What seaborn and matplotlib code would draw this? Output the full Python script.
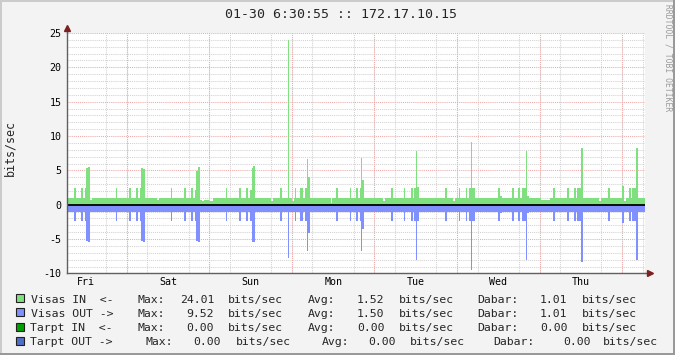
import numpy as np
import pandas as pd
import matplotlib
matplotlib.use("Agg")
import matplotlib.pyplot as plt
from matplotlib.patches import Rectangle
import seaborn as sns

# ---------------- data (hours since Fri 00:00) ----------------
title = "01-30 6:30:55 :: 172.17.10.15"
day_labels = ["Fri", "Sat", "Sun", "Mon", "Tue", "Wed", "Thu"]
t_start, t_end = 6.5, 174.5
y_ticks = [-10, -5, 0, 5, 10, 15, 20, 25]

base_in = 0.95
base_out = 1.0

ev_start = [8.6, 10.7, 11.8, 12.1, 12.7, 13.3, 20.8, 24.6, 26.6, 27.8, 28.1, 28.7,
            32.7, 36.8, 40.6, 42.6, 43.8, 44.1, 44.6, 45.2, 45.8, 46.4, 47.8,
            52.8, 56.5, 58.6, 59.7, 60.3, 60.6, 65.8, 68.7, 70.8, 71.9, 72.8,
            74.5, 75.7, 76.3, 76.6, 83.5, 84.7, 88.8, 90.5, 91.7, 92.2, 92.5,
            98.6, 100.7, 104.7, 106.5, 107.6, 108.2, 108.5, 116.6, 118.7, 120.7,
            122.7, 123.6, 124.2, 124.5, 132.0, 132.6, 136.1, 137.8, 139.0, 140.2,
            140.4, 144.5, 148.0, 152.1, 154.1, 155.0, 156.1, 161.4, 164.0, 168.0,
            168.6, 170.1, 170.9, 172.1]
ev_end = [9.2, 11.2, 12.1, 12.7, 13.3, 13.9, 21.1, 25.2, 27.2, 28.1, 28.7, 29.2,
          33.3, 37.1, 41.1, 43.2, 44.1, 44.6, 45.2, 45.8, 46.4, 47.8, 49.0,
          53.1, 57.1, 59.2, 60.3, 60.6, 61.2, 66.4, 69.0, 71.1, 72.5, 73.1,
          75.1, 76.3, 76.6, 77.2, 83.8, 85.3, 89.1, 91.1, 92.2, 92.5, 93.1,
          99.2, 101.3, 105.0, 107.1, 108.2, 108.5, 109.1, 117.2, 119.3, 121.0,
          123.0, 124.2, 124.5, 125.1, 132.6, 133.2, 136.7, 138.4, 140.2, 140.4,
          141.0, 147.1, 148.6, 152.6, 154.7, 156.1, 156.7, 161.9, 164.6, 168.6,
          169.2, 170.6, 172.1, 172.7]
ev_in = [2.4, 2.4, 2.4, 5.4, 5.5, 0.7, 2.4, 2.4, 2.4, 2.4, 5.4, 5.2,
         0.7, 2.4, 2.4, 2.4, 2.2, 4.9, 5.5, 0.7, 0.5, 0.7, 0.5,
         2.4, 2.4, 2.4, 2.2, 5.4, 5.6, 0.5, 2.4, 24.01, 0.5, 2.4,
         2.4, 2.4, 6.6, 4.0, 0.3, 2.4, 2.4, 2.4, 2.4, 6.8, 3.6,
         0.5, 2.4, 2.4, 2.4, 2.4, 7.8, 2.6, 2.4, 0.5, 2.4,
         2.4, 2.4, 9.1, 2.4, 2.4, 1.2, 2.4, 2.4, 2.4, 7.8,
         1.2, 0.7, 2.4, 2.4, 2.4, 2.4, 8.25, 0.6, 2.4, 2.7,
         0.6, 2.4, 2.4, 8.2]
ev_out = [2.4, 2.4, 2.4, 5.3, 5.5, 1.0, 2.4, 2.4, 2.4, 2.4, 5.3, 5.5,
          1.0, 2.4, 2.4, 2.4, 2.4, 5.3, 5.5, 1.0, 1.0, 1.0, 1.0,
          2.4, 2.4, 2.4, 2.4, 5.5, 5.5, 1.0, 2.4, 7.7, 1.0, 2.4,
          2.4, 2.4, 6.7, 4.1, 1.0, 2.4, 2.4, 2.4, 2.4, 6.8, 3.6,
          1.0, 2.4, 2.4, 2.4, 2.4, 8.1, 2.4, 2.4, 1.0, 2.4,
          2.4, 2.4, 9.52, 2.4, 2.4, 1.2, 2.4, 2.4, 2.4, 8.1,
          1.2, 1.0, 2.4, 2.4, 2.4, 2.4, 8.3, 1.0, 2.4, 2.7,
          1.0, 2.4, 2.4, 8.1]

legend_names = ["Visas IN  <-", "Visas OUT ->", "Tarpt IN  <-", "Tarpt OUT ->"]
legend_colors = ["#80e080", "#8090ff", "#00a000", "#5070c8"]
max_vals = ["24.01", "9.52", "0.00", "0.00"]
avg_vals = ["1.52", "1.50", "0.00", "0.00"]
cur_vals = ["1.01", "1.01", "0.00", "0.00"]

# ---------------- build step series ----------------
edges = [t_start]
vin, vout = [], []
cur = t_start
for s, e, a, b in zip(ev_start, ev_end, ev_in, ev_out):
    if s > cur + 1e-9:
        vin.append(base_in); vout.append(base_out); edges.append(s)
    vin.append(a); vout.append(b); edges.append(e)
    cur = e
if cur < t_end - 1e-9:
    vin.append(base_in); vout.append(base_out); edges.append(t_end)
edges_arr = np.array(edges, dtype=float)
mids = (edges_arr[:-1] + edges_arr[1:]) / 2
df = pd.DataFrame({"t": mids, "vin": np.array(vin, float), "vout": -np.array(vout, float)})
bin_list = [float(v) for v in edges_arr]

# ---------------- style ----------------
sns.set_theme(style="white")
MONO = ["DejaVu Sans Mono"]
plt.rcParams["font.family"] = MONO

BG = "#f3f3f3"
GRID = "#d2d2d2"
MGRID = "#eeaaaa"
AXC = "#606060"
ARROW = "#7f1f1f"

W, H = 675, 355
fig = plt.figure(figsize=(W / 100, H / 100), dpi=100, facecolor=BG)
L, R, T, B = 66.5, 644.5, 33.0, 273.4
ax = fig.add_axes([L / W, 1 - B / H, (R - L) / W, (B - T) / H])
ax.set_facecolor("white")

sns.histplot(data=df, x="t", weights="vin", bins=bin_list, element="step", fill=True,
             color=legend_colors[0], alpha=1, linewidth=0, antialiased=False, ax=ax, zorder=2)
sns.histplot(data=df, x="t", weights="vout", bins=bin_list, element="step", fill=True,
             color=legend_colors[1], alpha=1, linewidth=0, antialiased=False, ax=ax, zorder=2)
ax.axhline(0, color="black", lw=1.3, zorder=4)

ax.set_xlim(t_start, t_end)
ax.set_ylim(-10, 25)
ax.set_yticks(y_ticks)
ax.set_yticklabels([str(v) for v in y_ticks])
ax.set_yticks(np.arange(-10, 26, 1), minor=True)
ax.set_xticks([12 + 24 * i for i in range(len(day_labels))])
ax.set_xticklabels(day_labels)
ax.set_xticks(np.arange(12, t_end, 6), minor=True)

dots = (0, (1, 1))
ax.set_axisbelow(True)
ax.xaxis.grid(True, which="minor", color=GRID, ls=dots, lw=0.75)
ax.xaxis.grid(False, which="major")
ax.yaxis.grid(True, which="minor", color=GRID, ls=dots, lw=0.75)
ax.yaxis.grid(True, which="major", color=MGRID, ls=dots, lw=0.75)
for d in range(1, 8):
    ax.axvline(24 * d, color=MGRID, ls=dots, lw=0.75, zorder=0.9)

ax.tick_params(which="both", length=0, labelsize=7.2, colors="black")
ax.tick_params(axis="y", pad=3.5)
ax.tick_params(axis="x", pad=2.5)
ax.set_xlabel("")
ax.set_ylabel("")
for sp in ["top", "right"]:
    ax.spines[sp].set_visible(False)
for sp in ["left", "bottom"]:
    ax.spines[sp].set_color(AXC)
    ax.spines[sp].set_linewidth(1.0)
    ax.spines[sp].set_zorder(5)

# axis extensions and arrows
ax.plot([0, 0], [1, 1.02], transform=ax.transAxes, color=AXC, lw=1, clip_on=False, zorder=5)
ax.plot([1, 1.009], [0, 0], transform=ax.transAxes, color=AXC, lw=1, clip_on=False, zorder=5)
ax.plot([0], [1.022], marker="^", ms=4.5, color=ARROW, transform=ax.transAxes, clip_on=False, zorder=6)
ax.plot([1.010], [0], marker=">", ms=4.5, color=ARROW, transform=ax.transAxes, clip_on=False, zorder=6)

# titles
fig.text(341 / W, 1 - 18.3 / H, title, ha="center", va="baseline", fontsize=9.5)
fig.text(10 / W, 1 - 148.5 / H, "bits/sec", rotation=90, ha="center", va="center", fontsize=8.4)
fig.text(668 / W, 1 - 58 / H, "RRDTOOL / TOBI OETIKER", rotation=270, ha="center", va="center",
         fontsize=5.8, color="#9a9a9a")

# legend
FS = 8.25
base_y = [302.7, 316.9, 331.1, 345.3]
cols = [
    (31, 137.3, 214.0, 228.3, 307.3, 384.3, 399.0, 477.7, 567.6, 582.3),
    (31, 137.3, 214.0, 228.3, 307.3, 384.3, 399.0, 477.7, 567.6, 582.3),
    (30, 137.3, 214.0, 228.3, 307.3, 384.3, 399.0, 477.7, 567.6, 582.3),
    (30, 145.0, 221.0, 235.7, 321.7, 396.0, 410.0, 493.3, 590.6, 603.3),
]
for i in range(4):
    yb = base_y[i]
    c = cols[i]
    fig.patches.append(Rectangle((15.5 / W, 1 - (yb - 0.5) / H), 8 / W, 8 / H,
                                 transform=fig.transFigure, fc=legend_colors[i],
                                 ec="#202020", lw=0.8))

    def t(x, s, ha="left"):
        fig.text(x / W, 1 - yb / H, s, ha=ha, va="baseline", fontsize=FS)
    t(c[0], legend_names[i])
    t(c[1], "Max:")
    t(c[2], max_vals[i], "right")
    t(c[3], "bits/sec")
    t(c[4], "Avg:")
    t(c[5], avg_vals[i], "right")
    t(c[6], "bits/sec")
    t(c[7], "Dabar:")
    t(c[8], cur_vals[i], "right")
    t(c[9], "bits/sec")

# outer 3D frame
fig.patches.append(Rectangle((0, 1 - 1.5 / H), 1, 1.5 / H, transform=fig.transFigure, fc="#cbcbcb", ec="none"))
fig.patches.append(Rectangle((0, 0), 1.5 / W, 1, transform=fig.transFigure, fc="#cbcbcb", ec="none"))
fig.patches.append(Rectangle((0, 0), 1, 2.5 / H, transform=fig.transFigure, fc="#999999", ec="none"))
fig.patches.append(Rectangle((1 - 2.5 / W, 0), 2.5 / W, 1, transform=fig.transFigure, fc="#999999", ec="none"))

fig.savefig("out.png", dpi=100, facecolor=BG)
